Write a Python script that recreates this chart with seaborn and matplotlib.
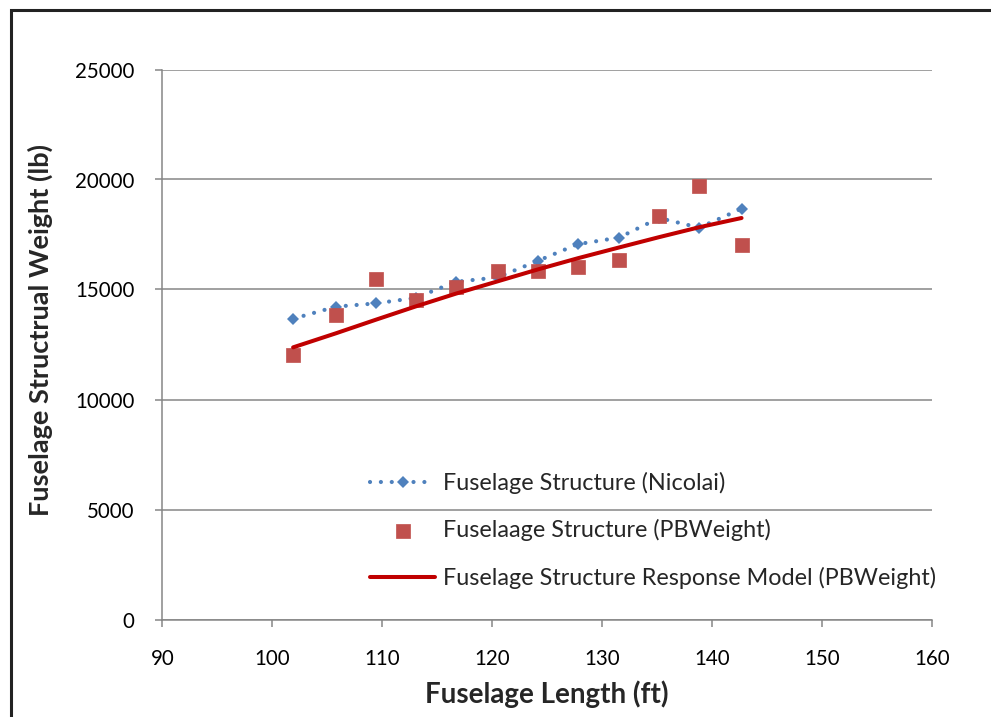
""" Fuselage structural weight vs fuselage length """

import numpy as np
import pandas as pd
import seaborn as sns
from matplotlib import pyplot as plt
from matplotlib.patches import Rectangle

# Data
length_ft = [101.9, 105.8, 109.45, 113.05, 116.7, 120.5,
             124.15, 127.8, 131.55, 135.2, 138.85, 142.7]
nicolai_lb = [13670, 14220, 14370, 14620, 15350, 15550,
              16300, 17060, 17360, 18250, 17810, 18670]
pbweight_lb = [12040, 13840, 15490, 14530, 15120, 15820,
               15820, 16000, 16330, 18330, 19710, 17030]
response_lb = [12370, 13010, 13630, 14230, 14810, 15370,
               15910, 16420, 16910, 17380, 17830, 18250]

x_ticks = [90, 100, 110, 120, 130, 140, 150, 160]
y_ticks = [0, 5000, 10000, 15000, 20000, 25000]

lab_nicolai = 'Fuselage Structure (Nicolai)'
lab_pbw = 'Fuselaage Structure (PBWeight)'
lab_model = 'Fuselage Structure Response Model (PBWeight)'

df = pd.DataFrame({'L': length_ft, 'nic': nicolai_lb,
                   'pbw': pbweight_lb, 'mod': response_lb})


def fig_fuselage(outfile='out.png'):
    sns.set_style('white')
    plt.rcParams['font.family'] = ['Lato', 'DejaVu Sans']

    W, H = 991, 717
    fig = plt.figure(figsize=(W/100, H/100), dpi=100)
    ax = fig.add_axes([162.3/W, 1-619.5/H, (931.7-162.3)/W, (619.5-69.5)/H])

    grey = '#868686'

    # Nicolai: dotted line w/ diamonds
    sns.lineplot(data=df, x='L', y='nic', ax=ax, color='#4F81BD',
                 lw=3.0, ls=(0, (0.01, 2.6)), dash_capstyle='round',
                 marker='D', markersize=6, markeredgewidth=0,
                 label=lab_nicolai, zorder=3)
    # PBWeight squares
    sns.scatterplot(data=df, x='L', y='pbw', ax=ax, color='#C0504D',
                    marker='s', s=110, edgecolor='#C0504D', linewidth=0.5,
                    label=lab_pbw, zorder=4)
    # Response model
    sns.lineplot(data=df, x='L', y='mod', ax=ax, color='#C00000',
                 lw=2.9, label=lab_model, zorder=5)

    # Axes
    ax.set_xlim(90, 160)
    ax.set_ylim(0, 25000)
    ax.set_xticks(x_ticks)
    ax.set_yticks(y_ticks)
    ax.yaxis.grid(True, color=grey, lw=1.1)
    ax.xaxis.grid(False)
    for side in ['top', 'right']:
        ax.spines[side].set_visible(False)
    for side in ['left', 'bottom']:
        ax.spines[side].set_color(grey)
        ax.spines[side].set_linewidth(1.1)
    ax.tick_params(axis='both', direction='out', length=5, width=1.1,
                   color=grey, labelsize=14.8, labelcolor='black')
    ax.tick_params(axis='x', pad=16)
    ax.tick_params(axis='y', pad=15)
    ax.xaxis.set_ticks_position('bottom')
    ax.yaxis.set_ticks_position('left')

    ax.set_xlabel('Fuselage Length (ft)', fontsize=20, fontweight='bold')
    ax.set_ylabel('Fuselage Structrual Weight (lb)', fontsize=19.5,
                  fontweight='bold')
    ax.xaxis.set_label_coords(0.5, -0.11)
    ax.yaxis.set_label_coords(-0.142, 0.526)

    # Legend
    handles, labels = ax.get_legend_handles_labels()
    order = [labels.index(lab) for lab in [lab_nicolai, lab_pbw, lab_model]]
    ax.legend([handles[i] for i in order], [labels[i] for i in order],
              loc='upper left', bbox_to_anchor=(370/W, 1-472/H),
              bbox_transform=fig.transFigure, frameon=False,
              fontsize=16.8, borderpad=0, borderaxespad=0,
              handlelength=2.8, handletextpad=0.33, labelspacing=1.08,
              numpoints=1, scatterpoints=1)

    # Chart-area border (left + top)
    fig.add_artist(Rectangle((10.5/W, -0.05), 1.2, 1.05-9.5/H,
                             transform=fig.transFigure, fill=False,
                             edgecolor='#222222', lw=2.2))

    plt.savefig(outfile, dpi=100)
    print(f"Saved: {outfile}")


if __name__ == '__main__':
    fig_fuselage()
